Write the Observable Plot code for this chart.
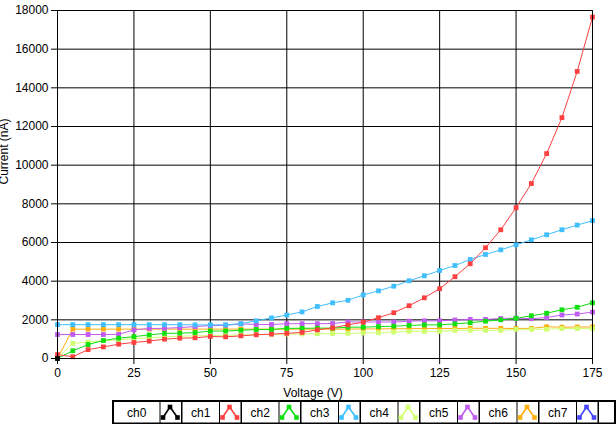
<!DOCTYPE html>
<html><head><meta charset="utf-8">
<script src="https://cdn.jsdelivr.net/npm/d3@7"></script>
<script src="https://cdn.jsdelivr.net/npm/@observablehq/plot@0.6"></script>
<style>
body{margin:0;background:#fff;font-family:"Liberation Sans",Arial,sans-serif;}
#wrap{position:relative;width:616px;height:424px;overflow:hidden;background:#fff;}
#legend{position:absolute;left:112px;top:399.5px;}
</style></head><body><div id="wrap"></div>
<script>
const voltage = [0,5,10,15,20,25,30,35,40,45,50,55,60,65,70,75,80,85,90,95,100,105,110,115,120,125,130,135,140,145,150,155,160,165,170,175];
const ch0 = [0];
const ch1 = [200,90,460,600,740,830,900,1000,1050,1070,1140,1120,1170,1230,1260,1300,1350,1480,1590,1740,1880,2110,2370,2730,3140,3610,4230,4900,5730,6660,7800,9050,10600,12460,14850,17660];
const ch2 = [0,400,720,930,1050,1130,1220,1300,1310,1340,1420,1420,1460,1500,1500,1560,1560,1570,1570,1620,1620,1650,1670,1710,1740,1740,1790,1850,1930,2000,2080,2210,2340,2520,2650,2880];
const ch3Start = 0;
const ch3 = [1750,1750,1750,1750,1750,1750,1750,1750,1750,1740,1740,1740,1800,1950,2100,2250,2410,2690,2880,3010,3290,3500,3740,4020,4280,4550,4810,5120,5380,5620,5880,6140,6400,6660,6900,7130];
const ch4 = [0,780,850,920,980,1020,1080,1120,1150,1170,1190,1200,1220,1230,1250,1260,1270,1280,1290,1300,1320,1330,1370,1400,1400,1400,1460,1460,1460,1450,1510,1510,1510,1550,1550,1550];
const ch5 = [1240,1240,1240,1240,1250,1480,1550,1560,1600,1650,1700,1720,1790,1760,1760,1800,1800,1800,1810,1890,1890,1890,1890,1930,1950,1950,1990,2020,2020,2070,2090,2060,2120,2250,2300,2400];
const ch6 = [0,1520,1520,1520,1520,1520,1520,1520,1520,1520,1520,1520,1520,1520,1520,1520,1520,1520,1520,1520,1530,1530,1540,1540,1550,1550,1550,1560,1560,1560,1550,1560,1640,1620,1630,1630];
const ch7 = [];
const names = ["ch0","ch1","ch2","ch3","ch4","ch5","ch6","ch7"];
const colors = ["#000000","#ff4040","#10e010","#40bfff","#d0ff70","#c05cf0","#ffae10","#4848ff"];
const xTicks = [0,25,50,75,100,125,150,175];
const yTicks = [0,2000,4000,6000,8000,10000,12000,14000,16000,18000];
const xLabel = "Voltage (V)";
const yLabel = "Current (nA)";

const series = [ch0,ch1,ch2,ch3,ch4,ch5,ch6,ch7];
const perSeries = series.map((vals,k)=>{
  const r = [];
  if (k===3) r.push({V:voltage[0], I:ch3Start, ch:names[k]});
  vals.forEach((v,i)=>r.push({V:voltage[i], I:v, ch:names[k]}));
  return r;
});

const dataMarks = [];
for (let k = series.length-1; k >= 0; k--) {
  const d = perSeries[k];
  if (!d.length) continue;
  dataMarks.push(Plot.line(d,{x:"V",y:"I",stroke:colors[k],strokeWidth:1}));
  dataMarks.push(Plot.dot(d,{x:"V",y:"I",symbol:"square",r:2.7,fill:colors[k],stroke:"none"}));
}

const chart = Plot.plot({
  width:616, height:400,
  marginLeft:57, marginRight:24, marginTop:10, marginBottom:42,
  style:{fontFamily:"'Liberation Sans', Arial, sans-serif", fontSize:"12px", color:"#000", background:"#fff", overflow:"visible"},
  x:{domain:[0,175], label:null},
  y:{domain:[0,18000], label:null},
  marks:[
    Plot.gridX(xTicks,{stroke:"#000",strokeOpacity:1,strokeWidth:1}),
    Plot.gridY(yTicks,{stroke:"#000",strokeOpacity:1,strokeWidth:1}),
    Plot.axisX(xTicks,{tickSize:6,tickPadding:4,label:null,tickFormat:d=>String(d),fill:"#000",fontSize:12}),
    Plot.axisY(yTicks,{tickSize:6,tickPadding:3,label:null,tickFormat:d=>String(d),fill:"#000",fontSize:12}),
    Plot.text([xLabel],{frameAnchor:"bottom",lineAnchor:"top",dy:30,dx:-12,fill:"#000",fontSize:12}),
    Plot.text([yLabel],{frameAnchor:"left",lineAnchor:"top",rotate:-90,dx:-58,fill:"#000",fontSize:12}),
    ...dataMarks,
    Plot.frame({stroke:"#000",strokeWidth:1})
  ]
});
const wrap = document.getElementById("wrap");
wrap.appendChild(chart);

// legend
const lw = 504, lh = 25;
const svg = d3.select(wrap).append("svg").attr("id","legend").attr("width",lw).attr("height",lh)
  .style("font-family","'Liberation Sans', Arial, sans-serif").style("font-size","12px");
svg.append("rect").attr("x",0).attr("y",0).attr("width",lw).attr("height",lh).attr("fill","#000");
const cellTop = 2, cellH = 20.5;
let xpos = 2;
names.forEach((n,k)=>{
  const labW = k===0 ? 45.5 : 36.5;
  svg.append("rect").attr("x",xpos).attr("y",cellTop).attr("width",labW).attr("height",cellH).attr("fill","#fff");
  svg.append("text").attr("x",xpos+labW/2).attr("y",cellTop+cellH/2+4.5).attr("text-anchor","middle").attr("fill","#000").text(n);
  xpos += labW + 1;
  const ix = xpos;
  svg.append("rect").attr("x",ix).attr("y",cellTop).attr("width",20.5).attr("height",cellH).attr("fill","#fff");
  const pts = [[ix+2.5,cellTop+15.5],[ix+9.5,cellTop+5],[ix+17,cellTop+15.5]];
  svg.append("polyline").attr("points",pts.map(p=>p.join(",")).join(" ")).attr("fill","none").attr("stroke",colors[k]).attr("stroke-width",1.6);
  pts.forEach(p=>svg.append("rect").attr("x",p[0]-2.3).attr("y",p[1]-2.3).attr("width",4.6).attr("height",4.6).attr("fill",colors[k]));
  xpos += 20.5 + 1.5;
});
svg.append("rect").attr("x",xpos).attr("y",cellTop).attr("width",lw-2-xpos).attr("height",cellH).attr("fill","#fff");
</script>
</body></html>
